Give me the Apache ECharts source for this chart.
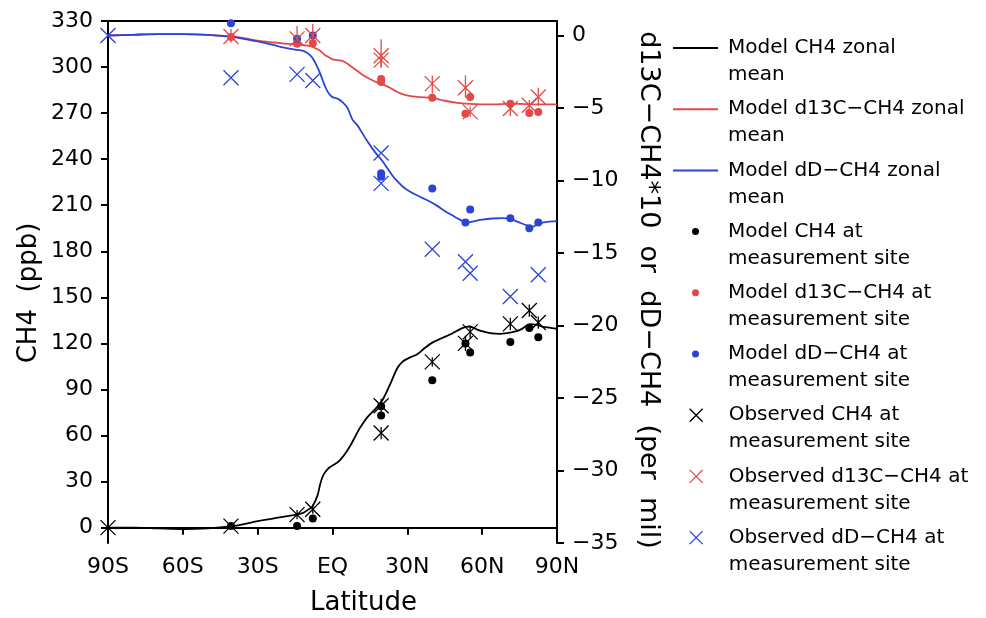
<!DOCTYPE html>
<html>
<head>
<meta charset="utf-8">
<script src="https://cdn.jsdelivr.net/npm/echarts@6/dist/echarts.min.js"></script>
<style>html,body{margin:0;padding:0;background:#fff}#c{width:986px;height:618px}</style>
</head>
<body>
<div id="c"></div>
<script>
// ---------- DATA ----------
const xTicks = [-90, -60, -30, 0, 30, 60, 90];
const leftTicks = [0, 30, 60, 90, 120, 150, 180, 210, 240, 270, 300, 330];
const rightTicks = [-35, -30, -25, -20, -15, -10, -5, 0];

// Model CH4 zonal mean (ppb, left axis)
const latCH4Zonal = [-90,-80,-70,-60,-50,-40,-35,-30,-25,-20,-15,-12,-10,-8,-6,-5,-4,-3,-2,-1,0,1,2,3,5,7,9,11,14,17,20,23,26,28,30,32,34,37,40,44,48,52,55,58,61,64,67,70,73,76,79,82,84,86,88,90];
const ch4Zonal = [0,0,-0.5,-1,-0.5,1,2.5,4.2,5.6,7,8.3,9.5,11.5,14,21,28,33,36,38,39.5,40.5,41.5,42.5,44,48,53,59,65,72,77,83,93,104,108,110,111.5,113,117,120.5,123.5,126.5,130,131,129,127.5,126.5,126.2,126.7,127.7,129.5,132.5,132,131,130.5,130,129.5];

// Model d13C-CH4 zonal mean (per mil *10, right axis)
const latD13CZonal = [-90,-80,-70,-60,-50,-40,-35,-30,-25,-20,-15,-12,-10,-8,-6,-5,-4,-3,-2,-1,0,2,4,6,8,10,12,15,18,20,23,26,29,32,35,40,45,50,55,60,65,70,75,80,85,90];
const d13CZonal = [0,0.05,0.1,0.1,0.05,-0.07,-0.2,-0.35,-0.45,-0.55,-0.62,-0.66,-0.7,-0.78,-0.95,-1.05,-1.2,-1.35,-1.45,-1.55,-1.65,-1.7,-1.75,-1.95,-2.2,-2.45,-2.7,-3.0,-3.25,-3.35,-3.6,-3.9,-4.1,-4.2,-4.25,-4.3,-4.5,-4.65,-4.72,-4.75,-4.75,-4.72,-4.72,-4.75,-4.75,-4.75];

// Model dD-CH4 zonal mean (per mil, right axis)
const latDDZonal = [-90,-80,-70,-60,-50,-40,-35,-30,-25,-20,-15,-12,-10,-9,-8,-7,-6,-5,-4,-3,-2,-1,0,2,4,6,8,10,12,14,16,18,20,22,24,26,28,30,33,36,39,42,45,48,51,54,57,60,64,68,72,75,78,80,83,86,90];
const dDZonal = [0,0.05,0.1,0.1,0.05,-0.1,-0.25,-0.4,-0.6,-0.82,-0.97,-1.05,-1.22,-1.35,-1.55,-1.85,-2.2,-2.6,-3.05,-3.5,-3.85,-4.1,-4.25,-4.35,-4.6,-5.0,-5.8,-6.2,-6.75,-7.3,-7.8,-8.25,-8.65,-9.15,-9.65,-10.05,-10.4,-10.65,-10.95,-11.2,-11.45,-11.75,-12.1,-12.4,-12.7,-12.9,-12.8,-12.7,-12.62,-12.6,-12.7,-12.9,-13.1,-13.2,-12.95,-12.85,-12.8];

// Model values at measurement sites
const latModelSites = [-40.7,-14.2,-7.9,19.5,19.5,40.0,53.3,55.2,71.3,78.9,82.5];
const ch4ModelSite = [1,1,6,79,73,96,120,114,121,130,124];
const d13CModelSite = [-0.1,-0.57,-0.53,-3.0,-3.2,-4.29,-5.39,-4.24,-4.7,-5.34,-5.27];
const dDModelSite = [0.85,-0.23,0,-9.5,-9.74,-10.55,-12.9,-12.0,-12.6,-13.3,-12.9];

// Observed CH4 at sites (with range)
const latObsCH4 = [-90,-40.7,-14.2,-7.9,19.5,19.5,40.0,53.3,55.2,71.3,78.9,82.5];
const ch4Obs = [0,1,8.5,12,79.4,61.6,108,120,127.5,132.7,141.4,133.6];
const ch4ObsLow = [0,1,5.5,9,75,57.5,105,115,123.5,128.7,137.4,129.6];
const ch4ObsHigh = [0,1,11.5,15,84,65.5,111,125,131.5,136.7,145.4,137.6];

// Observed d13C-CH4 at sites (with range)
const latObsD13C = [-40.7,-14.2,-7.9,19.5,19.5,40.0,53.3,55.2,71.3,78.9,82.5];
const d13CObs = [-0.07,-0.23,0,-1.4,-1.7,-3.32,-3.6,-5.27,-5.04,-4.81,-4.24];
const d13CObsLow = [-0.5,-0.8,-0.7,-2.2,-2.2,-4.0,-4.3,-5.6,-5.55,-5.15,-4.85];
const d13CObsHigh = [0.45,0.65,0.8,-0.25,-1.2,-2.75,-2.75,-4.9,-4.45,-4.45,-3.6];

// Observed dD-CH4 at sites
const latObsDD = [-90,-40.7,-14.2,-7.9,19.5,19.5,40.0,53.3,55.2,71.3,82.5];
const dDObs = [0,-2.91,-2.68,-3.1,-8.1,-10.2,-14.74,-15.6,-16.4,-18.0,-16.5];

// ---------- NAMES / STYLE ----------
const names = [
  'Model CH4 zonal\nmean',
  'Model d13C\u2212CH4 zonal\nmean',
  'Model dD\u2212CH4 zonal\nmean',
  'Model CH4 at\nmeasurement site',
  'Model d13C\u2212CH4 at\nmeasurement site',
  'Model dD\u2212CH4 at\nmeasurement site',
  'Observed CH4 at\nmeasurement site',
  'Observed d13C\u2212CH4 at\nmeasurement site',
  'Observed dD\u2212CH4 at\nmeasurement site'
];
const BLACK = '#000000', RED = '#e5484a', BLUE = '#2b44d6';
const FONT = 'DejaVu Sans';
const XSYM = 'path://M0,0L10,10M10,0L0,10';

const zip = (a, b) => a.map((v, i) => [v, b[i]]);
const zip3 = (a, b, c) => a.map((v, i) => [v, b[i], c[i]]);

function errBar(color) {
  return function (params, api) {
    const p1 = api.coord([api.value(0), api.value(1)]);
    const p2 = api.coord([api.value(0), api.value(2)]);
    return { type: 'line', shape: { x1: p1[0], y1: p1[1], x2: p2[0], y2: p2[1] },
             style: { stroke: color, lineWidth: 1.3 } };
  };
}

const latFmt = v => v === 0 ? 'EQ' : (v < 0 ? (-v) + 'S' : v + 'N');
const minusFmt = v => v < 0 ? '\u2212' + (-v) : String(v);

const LH = 27, LG = 61.2;
const legendText = { fontSize: 20, lineHeight: LH, fontFamily: FONT, color: '#000', padding: [0, 0, 0, 5] };
// leading blank line puts the first text line level with the icon
const legendBase = { orient: 'vertical', padding: 0, itemWidth: 45, itemGap: LG - 3 * LH,
                     selectedMode: false, textStyle: legendText, formatter: n => '\n' + n };

const chart = echarts.init(document.getElementById('c'), null, { renderer: 'canvas' });
chart.setOption({
  animation: false,
  backgroundColor: '#fff',
  textStyle: { fontFamily: FONT },
  grid: { left: 108, right: 429, top: 21, bottom: 75, outerBoundsMode: 'none' },
  legend: [
    Object.assign({}, legendBase, { left: 673, top: 48 - 1.5 * LH, itemHeight: 2,
      data: names.slice(0, 3).map(n => ({ name: n, icon: 'rect' })) }),
    Object.assign({}, legendBase, { left: 692, top: 48 + 3 * LG - 1.5 * LH, itemHeight: 7,
      data: names.slice(3, 6).map(n => ({ name: n, icon: 'circle' })) }),
    Object.assign({}, legendBase, { left: 689, top: 48 + 6 * LG - 1.5 * LH, itemHeight: 13,
      itemStyle: { borderWidth: 1.3 }, data: names.slice(6, 9) })
  ],
  xAxis: [
    { type: 'value', min: -90, max: 90, interval: 30, position: 'bottom',
      axisLine: { lineStyle: { color: '#000', width: 2 } },
      axisTick: { length: 7, lineStyle: { color: '#000', width: 2 } },
      axisLabel: { formatter: latFmt, fontSize: 22, margin: 13, color: '#000', fontFamily: FONT },
      splitLine: { show: false },
      name: 'Latitude', nameLocation: 'middle', nameGap: 47,
      nameTextStyle: { fontSize: 26, color: '#000', fontFamily: FONT, padding: [0, 0, 0, 62] } },
    { type: 'value', min: -90, max: 90, interval: 30, position: 'top',
      axisLine: { onZero: false, lineStyle: { color: '#000', width: 2 } },
      axisTick: { show: false }, axisLabel: { show: false }, splitLine: { show: false } }
  ],
  yAxis: [
    { type: 'value', min: -10, max: 330, position: 'left',
      axisLine: { show: true, onZero: false, lineStyle: { color: '#000', width: 2 } },
      axisTick: { show: true, length: 7, customValues: leftTicks, lineStyle: { color: '#000', width: 2 } },
      axisLabel: { customValues: leftTicks, fontSize: 22, margin: 15, color: '#000', fontFamily: FONT },
      splitLine: { show: false },
      name: 'CH4  (ppb)', nameLocation: 'middle', nameGap: 66,
      nameTextStyle: { fontSize: 26, color: '#000', fontFamily: FONT, padding: [0, 22, 0, 0] } },
    { type: 'value', min: -35, max: 1, position: 'right',
      axisLine: { show: true, onZero: false, lineStyle: { color: '#000', width: 2 } },
      axisTick: { show: true, length: 7, customValues: rightTicks, lineStyle: { color: '#000', width: 2 } },
      axisLabel: { customValues: rightTicks, formatter: minusFmt, fontSize: 22, margin: 15, color: '#000', fontFamily: FONT },
      splitLine: { show: false },
      name: 'd13C\u2212CH4*10  or  dD\u2212CH4  (per  mil)', nameLocation: 'middle', nameGap: 78, nameRotate: -90,
      nameTextStyle: { fontSize: 27, color: '#000', fontFamily: FONT, padding: [0, 0, 0, 16] } }
  ],
  series: [
    { type: 'line', name: names[0], yAxisIndex: 0, data: zip(latCH4Zonal, ch4Zonal), symbol: 'none',
      smooth: 0.3, color: BLACK, lineStyle: { color: BLACK, width: 1.8 }, z: 2 },
    { type: 'line', name: names[1], yAxisIndex: 1, data: zip(latD13CZonal, d13CZonal), symbol: 'none',
      smooth: 0.3, color: RED, lineStyle: { color: RED, width: 1.8 }, z: 2 },
    { type: 'line', name: names[2], yAxisIndex: 1, data: zip(latDDZonal, dDZonal), symbol: 'none',
      smooth: 0.3, color: BLUE, lineStyle: { color: BLUE, width: 1.8 }, z: 2 },
    { type: 'scatter', name: names[3], yAxisIndex: 0, data: zip(latModelSites, ch4ModelSite),
      symbol: 'circle', symbolSize: 8, itemStyle: { color: BLACK, opacity: 1 }, z: 3 },
    { type: 'scatter', name: names[4], yAxisIndex: 1, data: zip(latModelSites, d13CModelSite),
      symbol: 'circle', symbolSize: 8, itemStyle: { color: RED, opacity: 1 }, z: 3 },
    { type: 'scatter', name: names[5], yAxisIndex: 1, data: zip(latModelSites, dDModelSite),
      symbol: 'circle', symbolSize: 8, itemStyle: { color: BLUE, opacity: 1 }, z: 3 },
    { type: 'scatter', name: names[6], yAxisIndex: 0, data: zip(latObsCH4, ch4Obs),
      symbol: XSYM, symbolSize: 15, itemStyle: { color: BLACK, borderColor: BLACK, borderWidth: 1.3, opacity: 1 }, z: 4 },
    { type: 'scatter', name: names[7], yAxisIndex: 1, data: zip(latObsD13C, d13CObs),
      symbol: XSYM, symbolSize: 15, itemStyle: { color: RED, borderColor: RED, borderWidth: 1.3, opacity: 1 }, z: 4 },
    { type: 'scatter', name: names[8], yAxisIndex: 1, data: zip(latObsDD, dDObs),
      symbol: XSYM, symbolSize: 15, itemStyle: { color: BLUE, borderColor: BLUE, borderWidth: 1.3, opacity: 1 }, z: 4 },
    { type: 'custom', name: 'Observed CH4 range', yAxisIndex: 0, data: zip3(latObsCH4, ch4ObsLow, ch4ObsHigh),
      renderItem: errBar(BLACK), encode: { x: 0, y: [1, 2] }, z: 4 },
    { type: 'custom', name: 'Observed d13C\u2212CH4 range', yAxisIndex: 1, data: zip3(latObsD13C, d13CObsLow, d13CObsHigh),
      renderItem: errBar(RED), encode: { x: 0, y: [1, 2] }, z: 4 }
  ]
});
</script>
</body>
</html>
